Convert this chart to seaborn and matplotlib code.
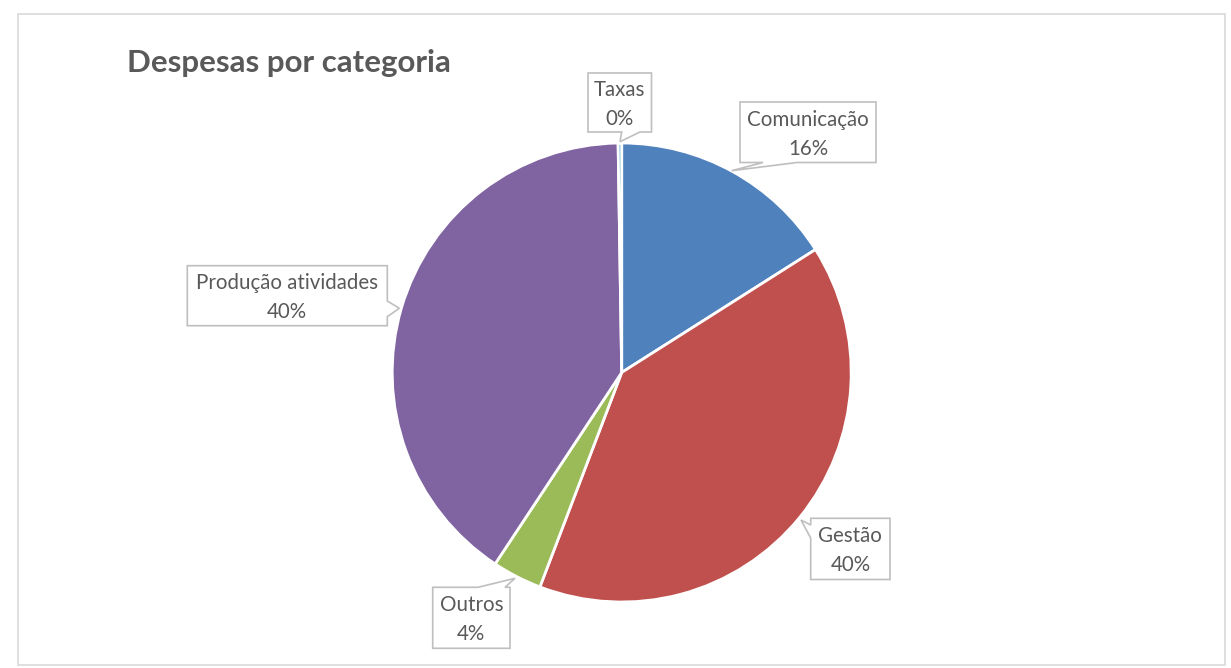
import matplotlib
matplotlib.use("Agg")
import matplotlib.pyplot as plt
import seaborn as sns
from matplotlib.patches import Polygon, Rectangle

# ---- data ----
categories = ["Comunicação", "Gestão", "Outros", "Produção atividades", "Taxas"]
values = [16.0, 39.8, 3.5, 40.45, 0.25]
colors_hex = ["#4F81BD", "#C0504D", "#9BBB59", "#8064A2", "#4BACC6"]
title = "Despesas por categoria"

W, H = 1231, 668
sns.set_theme(style="white")
plt.rcParams['font.family'] = ['Lato', 'DejaVu Sans']

fig = plt.figure(figsize=(W / 100, H / 100), dpi=100)
fig.patch.set_facecolor("white")
ax = fig.add_axes([0, 0, 1, 1])
palette = sns.color_palette(colors_hex)

ax.pie(values, colors=palette, startangle=90, counterclock=False,
       center=(621.7, H - 372.5), radius=229.5,
       wedgeprops=dict(edgecolor="white", linewidth=2.0))
ax.set_xlim(0, W)
ax.set_ylim(0, H)
ax.set_aspect("auto")
ax.axis("off")

# chart border
ax.add_patch(Rectangle((18, H - 665), 1207, 651, fill=False,
                       edgecolor="#D9D9D9", linewidth=1.2, zorder=1))

# title
ax.text(127, H - 72, title, fontsize=22.5, fontweight="bold",
        color="#595959", ha="left", va="baseline")

# callout layout (image pixel coords, top-left origin)
layout = {
    "Taxas": ((588, 73, 651.5, 132), "bottom", 621.7, 640, (620, 141.7)),
    "Comunicação": ((740, 102, 876, 162.5), "bottom", 763, 797, (731.7, 170.7)),
    "Produção atividades": ((187.3, 265.7, 387.3, 325.7), "right", 301, 316.7, (399.3, 308.3)),
    "Gestão": ((810.7, 518.3, 890, 579.5), "left", 525, 538, (801, 520)),
    "Outros": ((432.7, 587.3, 510, 648.3), "top", 478, 505, (515, 578.3)),
}


def callout_pts(box, edge, p1, p2, tip):
    l, t, r, b = box
    TL, TR, BR, BL = (l, t), (r, t), (r, b), (l, b)
    if edge == "top":
        pts = [TL, (p1, t), tip, (p2, t), TR, BR, BL]
    elif edge == "right":
        pts = [TL, TR, (r, p1), tip, (r, p2), BR, BL]
    elif edge == "bottom":
        pts = [TL, TR, BR, (p2, b), tip, (p1, b), BL]
    else:
        pts = [TL, TR, BR, BL, (l, p2), tip, (l, p1)]
    return [(x, H - y) for x, y in pts]


for cat, val in zip(categories, values):
    box, edge, p1, p2, tip = layout[cat]
    poly = Polygon(callout_pts(box, edge, p1, p2, tip), closed=True,
                   facecolor="white", edgecolor="#BFBFBF", linewidth=1.2,
                   zorder=5)
    ax.add_patch(poly)
    cx = (box[0] + box[2]) / 2
    cy = (box[1] + box[3]) / 2 + 2
    ax.text(cx, H - cy, f"{cat}\n{val:.0f}%", fontsize=14.8, color="#595959",
            ha="center", va="center", multialignment="center",
            linespacing=1.55, zorder=6)

fig.savefig("out.png", dpi=100, facecolor="white")
